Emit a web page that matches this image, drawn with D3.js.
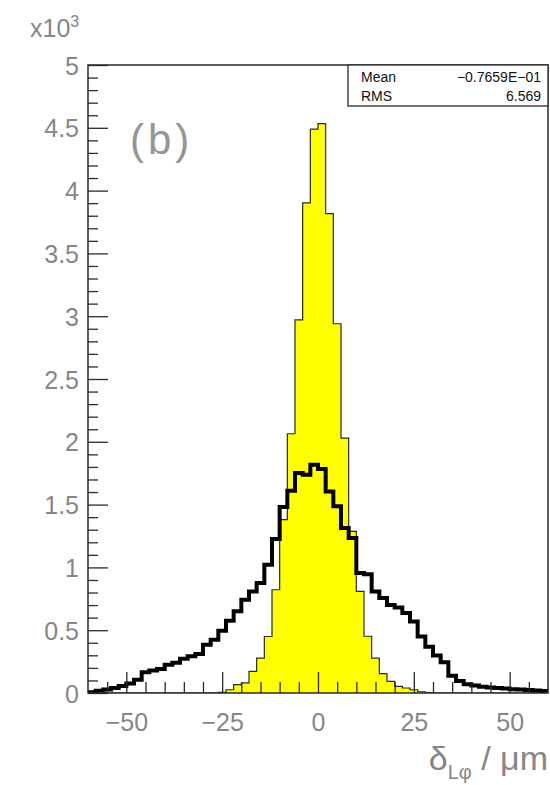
<!DOCTYPE html>
<html>
<head>
<meta charset="utf-8">
<script src="https://cdn.jsdelivr.net/npm/d3@7"></script>
<style>
  html, body { margin: 0; padding: 0; background: #fff; }
  svg { display: block; }
  text { font-family: "Liberation Sans", Arial, Helvetica, sans-serif; }
</style>
</head>
<body>
<svg id="chart" width="550" height="785"></svg>
<script>
// Histogram binning: 60 bins of width 2 µm from -60 to 60
const binLow = -60;
const binWidth = 2;

// Residual counts per bin (narrow, filled distribution)
const narrowCounts = [
  0, 0, 0, 0, 0, 0, 0, 0, 0, 0, 0, 0, 0, 0, 0, 0,
  2, 5, 26, 66, 80, 172, 278, 450, 822, 1380, 2064, 2970, 3902, 4490,
  4533, 3816, 2940, 2030, 1287, 809, 452, 278, 154, 93, 53, 40, 26, 10, 3,
  0, 0, 0, 0, 0, 0, 0, 0, 0, 0, 0, 0, 0, 0, 0
];

// Residual counts per bin (wide, outlined distribution)
const wideCounts = [
  5, 18, 28, 40, 55, 75, 105, 165, 180, 192,
  225, 241, 273, 292, 311, 385, 424, 496, 576, 650,
  743, 809, 876, 1021, 1226, 1481, 1611, 1752, 1738, 1818,
  1783, 1605, 1486, 1314, 1234, 955, 945, 809, 756, 700,
  680, 637, 570, 450, 368, 298, 245, 138, 96, 70,
  60, 50, 44, 40, 35, 30, 27, 24, 20, 15
];

// Axis ticks
const xMajorTicks = [-50, -25, 0, 25, 50];
const xMinorTicks = [-55, -45, -40, -35, -30, -20, -15, -10, -5, 5, 10, 15, 20, 30, 35, 40, 45, 55];
const yMajorTicks = [0, 500, 1000, 1500, 2000, 2500, 3000, 3500, 4000, 4500, 5000];
const yMinorTicks = d3.range(100, 5000, 100).filter(v => v % 500 !== 0);

// Statistics box entries
const statLabels = ["Mean", "RMS"];
const statValues = ["\u22120.7659E\u221201", "6.569"];

const frame = { left: 88, right: 548, top: 65, bottom: 693 };
const svg = d3.select("#chart");
svg.append("rect").attr("width", 550).attr("height", 785).attr("fill", "#fff");

const x = d3.scaleLinear().domain([-60, 60]).range([frame.left, frame.right]);
const y = d3.scaleLinear().domain([0, 5000]).range([frame.bottom, frame.top]);

svg.append("defs").append("clipPath").attr("id", "plotClip")
  .append("rect")
  .attr("x", frame.left).attr("y", frame.top)
  .attr("width", frame.right - frame.left).attr("height", frame.bottom - frame.top);

// Turn bin counts into step-outline vertices
function stepPoints(counts) {
  const pts = [];
  counts.forEach((c, i) => {
    const lo = binLow + i * binWidth;
    pts.push([lo, c], [lo + binWidth, c]);
  });
  return pts;
}

const plot = svg.append("g").attr("clip-path", "url(#plotClip)");

// Filled narrow histogram
const narrowPts = stepPoints(narrowCounts);
plot.append("path")
  .datum(narrowPts)
  .attr("d", d3.area().x(d => x(d[0])).y0(y(0)).y1(d => y(d[1])))
  .attr("fill", "#ffff00")
  .attr("stroke", "none");
plot.append("path")
  .datum([[binLow, 0], ...narrowPts, [binLow + narrowCounts.length * binWidth, 0]])
  .attr("d", d3.line().x(d => x(d[0])).y(d => y(d[1])))
  .attr("fill", "none")
  .attr("stroke", "#2a2a2a")
  .attr("stroke-width", 1.2);

// Thick outline of the wide histogram
plot.append("path")
  .datum(stepPoints(wideCounts))
  .attr("d", d3.line().x(d => x(d[0])).y(d => y(d[1])))
  .attr("fill", "none")
  .attr("stroke", "#000")
  .attr("stroke-width", 4)
  .attr("stroke-linejoin", "miter");

const labelColor = "#868686";
const tickColor = "#2a2a2a";
const minus = d => (d < 0 ? "\u2212" + Math.abs(d) : String(d));

// X axis: ticks point into the frame
const xAxisMajor = svg.append("g")
  .attr("transform", `translate(0,${frame.bottom})`)
  .call(d3.axisBottom(x).tickValues(xMajorTicks).tickSize(-21).tickPadding(20).tickFormat(minus));
const xAxisMinor = svg.append("g")
  .attr("transform", `translate(0,${frame.bottom})`)
  .call(d3.axisBottom(x).tickValues(xMinorTicks).tickSize(-11).tickFormat(""));

// Y axis
const yAxisMajor = svg.append("g")
  .attr("transform", `translate(${frame.left},0)`)
  .call(d3.axisLeft(y).tickValues(yMajorTicks).tickSize(-20).tickPadding(9).tickFormat(d => String(d / 1000)));
const yAxisMinor = svg.append("g")
  .attr("transform", `translate(${frame.left},0)`)
  .call(d3.axisLeft(y).tickValues(yMinorTicks).tickSize(-10).tickFormat(""));

[xAxisMajor, xAxisMinor, yAxisMajor, yAxisMinor].forEach(g => {
  g.select(".domain").remove();
  g.selectAll(".tick line").attr("stroke", tickColor).attr("stroke-width", 1.3);
  g.selectAll(".tick text")
    .attr("fill", labelColor)
    .attr("font-size", 25)
    .attr("font-family", "Liberation Sans, Arial, sans-serif");
});
yAxisMajor.selectAll(".tick text").attr("dy", "0.36em");

// Plot frame
svg.append("rect")
  .attr("x", frame.left).attr("y", frame.top)
  .attr("width", frame.right - frame.left).attr("height", frame.bottom - frame.top)
  .attr("fill", "none").attr("stroke", tickColor).attr("stroke-width", 1.5);

// Axis multiplier
const mult = svg.append("text")
  .attr("x", 30).attr("y", 37)
  .attr("fill", labelColor).attr("font-size", 25);
mult.append("tspan").text("x10");
mult.append("tspan").attr("font-size", 16).attr("dy", -10).text("3");

// Panel tag
svg.append("text")
  .attr("x", 130).attr("y", 154)
  .attr("fill", "#959595").attr("font-size", 42)
  .attr("letter-spacing", 4)
  .text("(b)");

// X axis title
const xt = svg.append("text")
  .attr("x", 548).attr("y", 770)
  .attr("text-anchor", "end")
  .attr("fill", labelColor).attr("font-size", 34);
xt.append("tspan").text("\u03b4");
xt.append("tspan").attr("font-size", 20).attr("dy", 9).text("L\u03c6");
xt.append("tspan").attr("dy", -9).text(" / \u03bcm");

// Statistics box
const box = svg.append("g");
box.append("rect")
  .attr("x", 348).attr("y", frame.top)
  .attr("width", frame.right - 348).attr("height", 41)
  .attr("fill", "#fff").attr("stroke", tickColor).attr("stroke-width", 1.3);
statLabels.forEach((lab, i) => {
  box.append("text")
    .attr("x", 361).attr("y", 82 + i * 19)
    .attr("font-size", 14).attr("fill", "#111")
    .text(lab);
  box.append("text")
    .attr("x", 541).attr("y", 82 + i * 19)
    .attr("text-anchor", "end")
    .attr("font-size", 14).attr("fill", "#111")
    .text(statValues[i]);
});
</script>
</body>
</html>
